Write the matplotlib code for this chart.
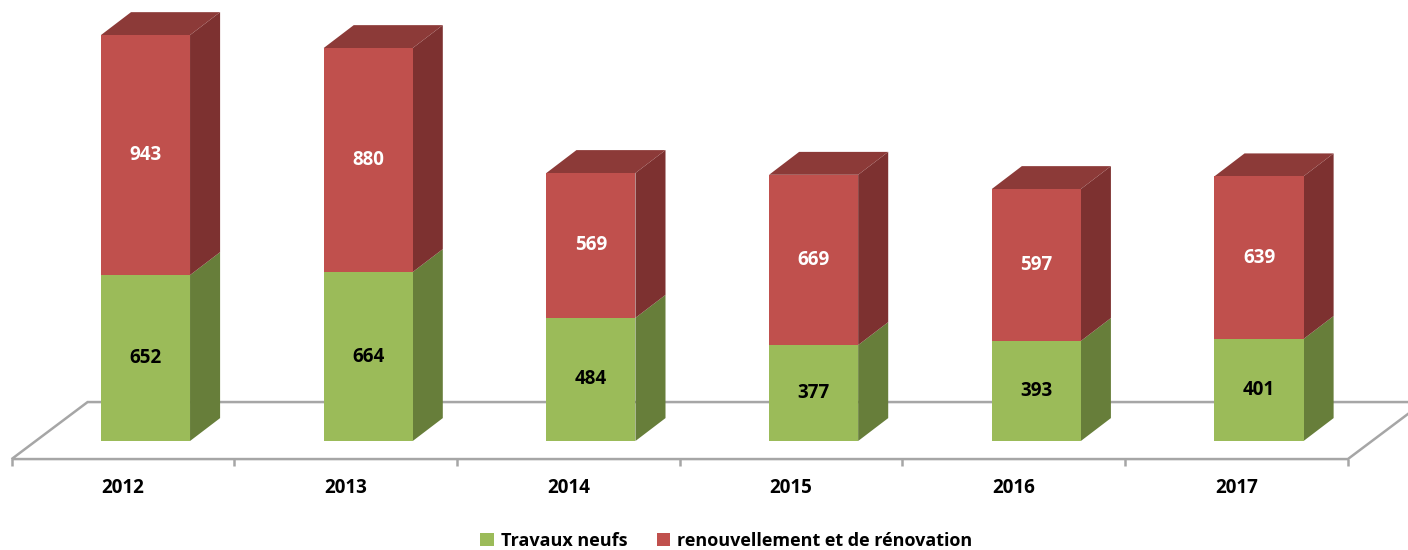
import matplotlib.pyplot as plt
from matplotlib.patches import Polygon, Patch

# données
annees = ['2012', '2013', '2014', '2015', '2016', '2017']
travaux_neufs = [652, 664, 484, 377, 393, 401]
renouvellement = [943, 880, 569, 669, 597, 639]

# couleurs (style Excel)
vert = '#9BBB59'
vert_cote = '#677E3A'
rouge = '#C0504D'
rouge_cote = '#7D3130'
rouge_haut = '#8C3A38'

plt.rcParams['font.family'] = ['Open Sans', 'DejaVu Sans']

fig = plt.figure(figsize=(14.08, 5.5), dpi=100)
ax = fig.add_axes([0, 0, 1, 1])
ax.set_xlim(-0.5523, 5.770)
ax.set_ylim(-428.3, 1732.8)
ax.axis('off')

# effet 3D : décalage de profondeur
bar_w = 0.40
bar_off = 0.101
dx, dy = 0.135, 90.0          # profondeur des barres
fdx, fdy = 0.341, 224.0       # profondeur du sol
sol = -71.0
fs = 13.5

# sol
n = len(annees)
x0, x1 = -0.5, n - 0.5
floor = Polygon([(x0, sol), (x1, sol), (x1 + fdx, sol + fdy), (x0 + fdx, sol + fdy)],
                closed=True, facecolor='white', edgecolor='#A6A6A6', lw=1.8, zorder=1)
ax.add_patch(floor)
ax.vlines([x0 + k for k in range(n + 1)], sol - 27, sol, color='#A6A6A6', lw=1.8, zorder=1)


def faces(xc, bas, haut, c_side, c_top=None):
    l, r = xc - bar_w / 2, xc + bar_w / 2
    ax.add_patch(Polygon([(r, bas), (r + dx, bas + dy), (r + dx, haut + dy), (r, haut)],
                         closed=True, facecolor=c_side, edgecolor='none', zorder=3))
    if c_top:
        ax.add_patch(Polygon([(l, haut), (r, haut), (r + dx, haut + dy), (l + dx, haut + dy)],
                             closed=True, facecolor=c_top, edgecolor='none', zorder=3))


for i in range(n):
    xc = i + bar_off
    g = travaux_neufs[i]
    rr = renouvellement[i]
    faces(xc, 0, g, vert_cote)
    faces(xc, g, g + rr, rouge_cote, rouge_haut)
    ax.bar(xc, g, width=bar_w, color=vert, zorder=4)
    ax.bar(xc, rr, bottom=g, width=bar_w, color=rouge, zorder=4)
    ax.text(xc, g / 2, str(g), ha='center', va='center', fontsize=fs,
            fontweight='bold', color='black', zorder=5)
    ax.text(xc, g + rr / 2, str(rr), ha='center', va='center', fontsize=fs,
            fontweight='bold', color='white', zorder=5)
    ax.text(i, -185, annees[i], ha='center', va='center', fontsize=fs,
            fontweight='bold', color='black')

handles = [Patch(facecolor=vert, label='Travaux neufs'),
           Patch(facecolor=rouge, label='renouvellement et de rénovation')]
leg = fig.legend(handles=handles, loc='center', bbox_to_anchor=(0.5160, 1 - 541 / 550),
                 ncol=2, frameon=False, handlelength=0.75, handleheight=0.75,
                 handletextpad=0.4, columnspacing=1.6, prop={'size': 13, 'weight': 'bold'})

fig.savefig('out.png', dpi=100)
